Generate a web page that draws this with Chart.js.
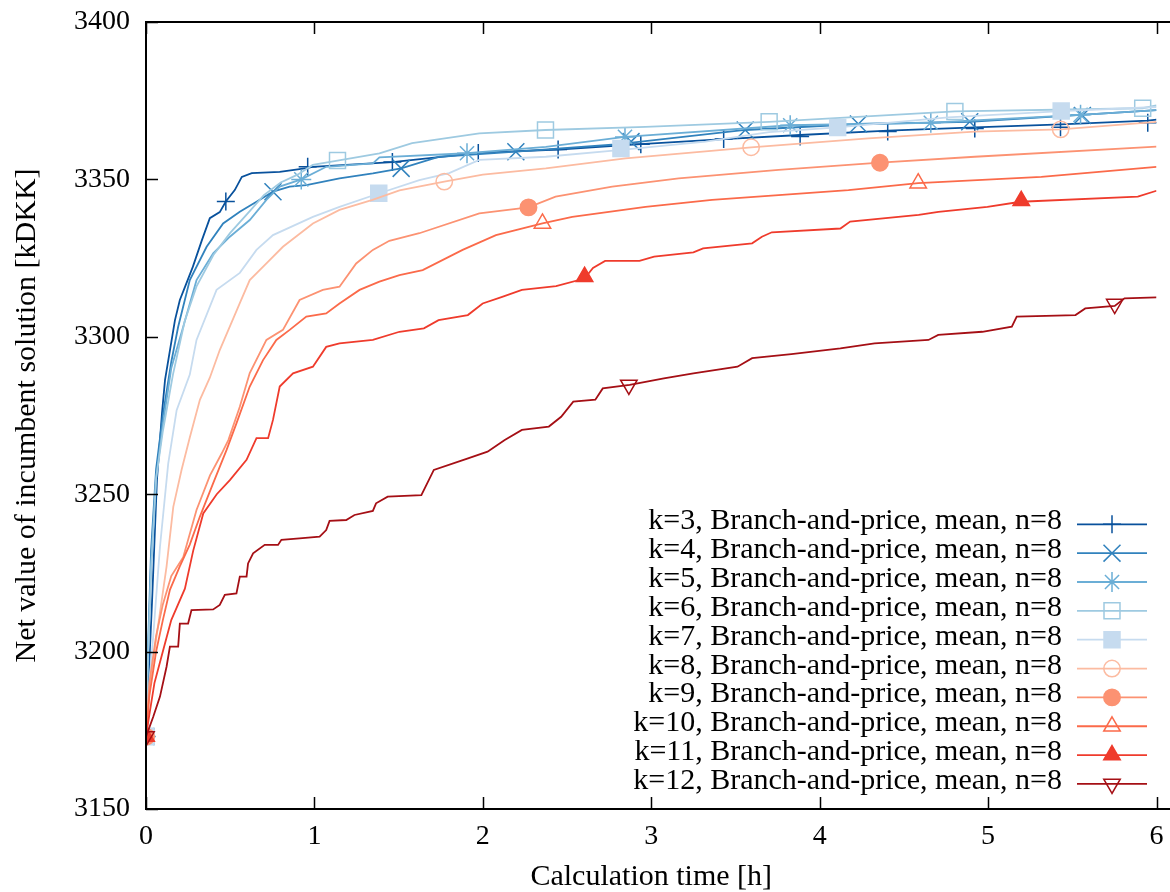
<!DOCTYPE html>
<html lang="en">
<head>
<meta charset="utf-8">
<title>Net value of incumbent solution</title>
<script src="https://cdn.jsdelivr.net/npm/chart.js@4/dist/chart.umd.min.js"></script>
<style>
  html, body { margin: 0; padding: 0; background: #fff; }
</style>
</head>
<body>
<canvas id="chart" width="1170" height="892"></canvas>
<script>
// values: [hours, kDKK]
const kValues = [3, 4, 5, 6, 7, 8, 9, 10, 11, 12];
const seriesLabels = kValues.map(k => "k=" + k + ", Branch-and-price, mean, n=8");
const xTicks = [0, 1, 2, 3, 4, 5, 6];
const yTicks = [3150, 3200, 3250, 3300, 3350, 3400];

const line3 = [[0,3173],[0.036,3216],[0.065,3254.5],[0.095,3275.8],[0.113,3286.3],[0.172,3305.3],[0.201,3311.7],[0.231,3315.8],[0.278,3322.2],[0.332,3330.7],[0.379,3337.7],[0.438,3339.6],[0.474,3343],[0.527,3346.6],[0.569,3350.8],[0.628,3352],[0.794,3352.4],[0.954,3353.6],[0.989,3354],[1.463,3355.5],[1.973,3358.4],[2.447,3359.5],[2.938,3361.2],[3.43,3362.8],[3.884,3364.1],[4.408,3365.5],[4.921,3366.5],[5.434,3367.5],[5.948,3368.7],[6,3369]];
const line4 = [[0,3173],[0.01,3198],[0.03,3232],[0.06,3258],[0.1,3275],[0.15,3292],[0.191,3303.2],[0.26,3318],[0.36,3328.6],[0.458,3336],[0.557,3339.7],[0.656,3342.9],[0.754,3346.1],[0.853,3347.7],[0.952,3348.2],[1.149,3350.3],[1.347,3351.9],[1.515,3353.5],[1.742,3357.2],[2.196,3358.8],[2.767,3361],[3.558,3365.7],[4.23,3367.6],[4.891,3368.3],[6,3372]];
const line5 = [[0,3173],[0.01,3195],[0.03,3228],[0.06,3255],[0.1,3272],[0.15,3290],[0.221,3303.2],[0.3,3318],[0.399,3326.5],[0.498,3331.8],[0.616,3337.1],[0.715,3343.5],[0.794,3347.7],[0.922,3350],[1.07,3354],[1.347,3355.1],[1.386,3357],[1.906,3358.3],[2.374,3360.3],[2.844,3363.5],[3.825,3367.2],[4.66,3368],[5.549,3370.5],[6,3372]];
const line6 = [[0,3173],[0.01,3195],[0.03,3225],[0.06,3255],[0.1,3270],[0.16,3288],[0.23,3305],[0.3,3316],[0.4,3326],[0.5,3333],[0.6,3339],[0.7,3345],[0.8,3349],[0.9,3351.5],[0.99,3354.6],[1.137,3356],[1.386,3358.3],[1.58,3361.5],[1.979,3364.6],[2.372,3365.7],[2.966,3366.7],[3.7,3368.3],[4.803,3371.6],[5.918,3372.6],[6,3373.5]];
const line7 = [[0,3173],[0.02,3190],[0.043,3205],[0.083,3233.3],[0.132,3259.8],[0.182,3276.7],[0.26,3288],[0.3,3299],[0.419,3314.9],[0.557,3320.3],[0.656,3327.6],[0.754,3332.3],[0.991,3338.1],[1.149,3341.3],[1.386,3345.6],[1.623,3349.8],[1.8,3352],[1.979,3356.2],[2.374,3357.2],[2.808,3359.3],[3.322,3362],[3.7,3365],[4.107,3366.5],[4.763,3369.7],[5.434,3371.7],[6,3373]];
const line8 = [[0,3173],[0.024,3190],[0.063,3205],[0.122,3227],[0.162,3246],[0.211,3257.7],[0.26,3268],[0.32,3280],[0.379,3287],[0.438,3295.8],[0.557,3310.7],[0.616,3318],[0.715,3323.3],[0.813,3328.6],[0.991,3336],[1.149,3340.3],[1.345,3343.5],[1.505,3346.5],[1.771,3349.3],[2,3351.5],[2.374,3353.5],[2.847,3356.7],[3.593,3360.2],[4.289,3363],[4.921,3365.2],[5.431,3365.9],[6,3368.3]];
const line9 = [[0,3173],[0.02,3190],[0.06,3205],[0.1,3215],[0.15,3224],[0.221,3230],[0.3,3245],[0.38,3256],[0.45,3263],[0.489,3267.2],[0.557,3277.8],[0.616,3288.5],[0.715,3299],[0.813,3302.2],[0.912,3311.7],[1.05,3314.9],[1.149,3315.9],[1.248,3323.3],[1.347,3327.6],[1.445,3330.5],[1.623,3332.9],[1.979,3339.2],[2.271,3341.1],[2.432,3344.5],[2.768,3347.7],[3.163,3350.3],[3.756,3353],[4.358,3355.3],[4.921,3357.2],[6,3360.4]];
const line10 = [[0,3173],[0.02,3186],[0.06,3200],[0.1,3210],[0.142,3219.6],[0.2,3227],[0.26,3234],[0.32,3242.9],[0.399,3253.5],[0.478,3264],[0.537,3272.5],[0.616,3284.2],[0.695,3292.6],[0.774,3299],[0.853,3302.2],[0.952,3306.4],[1.07,3307.4],[1.149,3310.6],[1.268,3314.9],[1.386,3317.5],[1.505,3319.6],[1.643,3321.2],[1.88,3327.6],[2.078,3332.3],[2.354,3336],[2.531,3338.1],[2.966,3341.3],[3.361,3343.5],[3.756,3345],[4.171,3346.6],[4.585,3348.8],[5.316,3350.8],[6,3354]];
const line11 = [[0,3173],[0.02,3180],[0.05,3190],[0.1,3200],[0.15,3210],[0.231,3220],[0.28,3232],[0.34,3243.9],[0.42,3250],[0.498,3254.5],[0.597,3260.9],[0.656,3267.8],[0.725,3267.8],[0.754,3273.6],[0.794,3284.2],[0.873,3288.4],[0.991,3290.5],[1.07,3296.8],[1.149,3297.9],[1.347,3299],[1.505,3301.6],[1.65,3302.7],[1.737,3305.3],[1.911,3306.9],[1.999,3310.6],[2.115,3312.7],[2.232,3314.9],[2.435,3316.1],[2.604,3318.5],[2.654,3321.9],[2.726,3324.1],[2.93,3324.1],[3.017,3325.5],[3.25,3326.8],[3.308,3328.1],[3.599,3329.7],[3.657,3331.8],[3.716,3333.2],[4.123,3334.4],[4.181,3336.6],[4.588,3338.7],[4.705,3339.7],[4.996,3341.3],[5.193,3342.9],[5.889,3344.5],[6,3346.4]];
const line12 = [[0,3173],[0.043,3179.3],[0.083,3185.7],[0.122,3195.2],[0.142,3201.6],[0.191,3201.6],[0.201,3208.9],[0.25,3208.9],[0.27,3213.2],[0.399,3213.4],[0.438,3214.8],[0.468,3218],[0.537,3218.5],[0.557,3223.8],[0.597,3223.8],[0.606,3228],[0.636,3231.2],[0.705,3233.9],[0.784,3233.9],[0.804,3235.5],[0.912,3236],[1.031,3236.5],[1.07,3238.6],[1.09,3241.5],[1.189,3241.8],[1.238,3243.4],[1.347,3244.7],[1.366,3247.1],[1.435,3249.2],[1.635,3249.7],[1.709,3257.7],[1.912,3261.4],[2.028,3263.5],[2.13,3267.2],[2.232,3270.4],[2.392,3271.5],[2.465,3274.6],[2.537,3279.4],[2.668,3280],[2.712,3283.6],[2.872,3284.7],[3.075,3286.8],[3.25,3288.4],[3.512,3290.5],[3.599,3293.2],[3.832,3294.5],[4.123,3296.3],[4.326,3297.9],[4.646,3299],[4.704,3300.6],[4.966,3301.6],[5.141,3303.2],[5.17,3306.4],[5.519,3306.9],[5.577,3309],[5.752,3309.8],[5.81,3312.2],[6,3312.5]];

// marker positions (gnuplot pointinterval)
const mark3 = [[0,3173],[0.474,3343],[0.96,3354],[1.463,3355.5],[1.973,3358.4],[2.447,3359.5],[2.938,3361.2],[3.43,3362.8],[3.884,3363.6],[4.404,3365.2],[4.921,3366.2],[5.43,3366.6],[5.948,3368]];
const mark4 = [[0,3173],[0.754,3346.1],[1.515,3353.5],[2.196,3358.8],[2.88,3362],[3.558,3365.7],[4.23,3367.6],[4.891,3368.3],[5.56,3370.3]];
const mark5 = [[0,3173],[0.922,3350],[1.906,3358.3],[2.844,3363.5],[3.825,3367.2],[4.66,3368],[5.549,3370.5]];
const mark6 = [[0,3173],[1.137,3356],[2.372,3365.7],[3.7,3368.3],[4.803,3371.6],[5.918,3372.6]];
const mark7 = [[0,3173],[1.382,3345.6],[2.82,3359.8],[4.107,3366.5],[5.434,3371.7]];
const mark8 = [[0,3173],[1.771,3349.3],[3.593,3360.2],[5.431,3365.9]];
const mark9 = [[0,3173],[2.271,3341.1],[4.358,3355.3]];
const mark10 = [[0,3173],[2.354,3336],[4.585,3348.8]];
const mark11 = [[0,3173],[2.604,3319.1],[5.197,3343.2]];
const mark12 = [[0,3173],[2.867,3284.7],[5.752,3310.4]];

const lines = [line3, line4, line5, line6, line7, line8, line9, line10, line11, line12];
const marks = [mark3, mark4, mark5, mark6, mark7, mark8, mark9, mark10, mark11, mark12];

// look of each series
const styles = [
  {color: "#08519c", point: "cross",    radius: 9,    filled: false, rotation: 0},
  {color: "#3182bd", point: "crossRot", radius: 12,   filled: false, rotation: 0},
  {color: "#6baed6", point: "star",     radius: 10,   filled: false, rotation: 0},
  {color: "#9ecae1", point: "rect",     radius: 11.3, filled: false, rotation: 0},
  {color: "#c6dbef", point: "rect",     radius: 11.3, filled: true,  rotation: 0},
  {color: "#fcbba1", point: "circle",   radius: 8.2,  filled: false, rotation: 0},
  {color: "#fc9272", point: "circle",   radius: 8.2,  filled: true,  rotation: 0},
  {color: "#fb6a4a", point: "triangle", radius: 9.5,  filled: false, rotation: 0},
  {color: "#ef3b2c", point: "triangle", radius: 9.5,  filled: true,  rotation: 0},
  {color: "#a50f15", point: "triangle", radius: 9.5,  filled: false, rotation: 180}
];

const FONT = "'Liberation Serif', 'Times New Roman', serif";
const toXY = arr => arr.map(p => ({x: p[0], y: p[1]}));

const datasets = [];
lines.forEach((ln, i) => {
  const st = styles[i];
  datasets.push({
    label: seriesLabels[i],
    data: toXY(ln),
    borderColor: st.color,
    borderWidth: 1.8,
    pointRadius: 0,
    fill: false,
    tension: 0,
    order: (10 - i) * 2
  });
  datasets.push({
    label: seriesLabels[i] + " markers",
    data: toXY(marks[i]),
    showLine: false,
    pointStyle: st.point,
    pointRadius: st.radius,
    pointRotation: st.rotation,
    pointBorderColor: st.color,
    pointBackgroundColor: st.filled ? st.color : "rgba(0,0,0,0)",
    pointBorderWidth: 1.5,
    order: (10 - i) * 2 - 1
  });
});

// gnuplot style frame: inward ticks, border on left, bottom and top
const frame = {
  id: "frame",
  afterDraw(chart) {
    const ctx = chart.ctx;
    const a = chart.chartArea;
    const xs = chart.scales.x, ys = chart.scales.y;
    ctx.save();
    ctx.strokeStyle = "#000";
    ctx.lineWidth = 1.5;
    ctx.beginPath();
    yTicks.forEach(v => {
      const y = Math.round(ys.getPixelForValue(v)) + 0.5;
      ctx.moveTo(a.left, y); ctx.lineTo(a.left + 12, y);
    });
    xTicks.forEach(v => {
      const x = Math.round(xs.getPixelForValue(v)) + 0.5;
      ctx.moveTo(x, a.bottom); ctx.lineTo(x, a.bottom - 12);
      ctx.moveTo(x, a.top); ctx.lineTo(x, a.top + 12);
    });
    ctx.stroke();
    ctx.lineWidth = 2;
    ctx.beginPath();
    ctx.moveTo(chart.width, a.top); ctx.lineTo(a.left, a.top);
    ctx.lineTo(a.left, a.bottom); ctx.lineTo(chart.width, a.bottom);
    ctx.stroke();
    ctx.restore();
  }
};

// key: text right aligned, then line sample with marker
const key = {
  id: "key",
  afterDraw(chart) {
    const ctx = chart.ctx;
    ctx.save();
    ctx.font = "30px " + FONT;
    ctx.textAlign = "right";
    ctx.textBaseline = "alphabetic";
    styles.forEach((st, i) => {
      const y = 524.3 + 28.85 * i;
      ctx.fillStyle = "#000";
      ctx.fillText(seriesLabels[i], 1062, y + 5);
      ctx.strokeStyle = st.color;
      ctx.lineWidth = 1.8;
      ctx.beginPath();
      ctx.moveTo(1077, y); ctx.lineTo(1147, y);
      ctx.stroke();
      ctx.lineWidth = 1.5;
      ctx.fillStyle = st.filled ? st.color : "rgba(0,0,0,0)";
      Chart.helpers.drawPoint(ctx, {pointStyle: st.point, rotation: st.rotation, radius: st.radius, borderWidth: 1.5}, 1112, y);
    });
    ctx.restore();
  }
};

new Chart(document.getElementById("chart"), {
  type: "line",
  data: {datasets: datasets},
  options: {
    responsive: false,
    animation: false,
    layout: {padding: {top: 22, right: 11, left: 0, bottom: 0}},
    plugins: {legend: {display: false}, tooltip: {enabled: false}},
    scales: {
      x: {
        type: "linear",
        min: 0, max: 6,
        grid: {display: false, drawTicks: false},
        border: {display: false},
        ticks: {stepSize: 1, padding: 11, color: "#000", font: {family: FONT, size: 28},
                callback: v => String(v)},
        title: {display: true, text: "Calculation time [h]", color: "#000",
                font: {family: FONT, size: 30, lineHeight: 1}, padding: {top: 0, bottom: 0}},
        afterFit: s => { s.height = 83; s.paddingLeft = 0; s.paddingRight = 0; }
      },
      y: {
        type: "linear",
        min: 3150, max: 3400,
        grid: {display: false, drawTicks: false},
        border: {display: false},
        ticks: {stepSize: 50, padding: 16, color: "#000", font: {family: FONT, size: 28},
                callback: v => String(v)},
        title: {display: true, text: "Net value of incumbent solution [kDKK]", color: "#000",
                font: {family: FONT, size: 30, lineHeight: 1}, padding: {top: 12, bottom: 0}},
        afterFit: s => { s.width = 146; s.paddingTop = 0; s.paddingBottom = 0; }
      }
    }
  },
  plugins: [frame, key]
});
</script>
</body>
</html>
